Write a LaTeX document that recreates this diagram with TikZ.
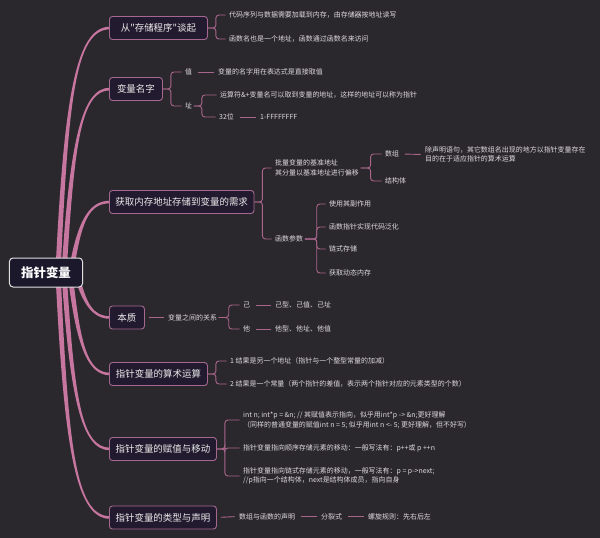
\documentclass[tikz,border=0pt]{standalone}
\usepackage{fontspec}
\newfontfamily\cjk{Noto Sans CJK SC}
\usetikzlibrary{calc}
\pgfdeclarelayer{bglayer}
\pgfdeclarelayer{trunklayer}
\pgfsetlayers{bglayer,trunklayer,main}
\definecolor{bgc}{RGB}{43,40,45}
\definecolor{boxfill}{RGB}{34,27,47}
\definecolor{boxline}{RGB}{165,105,145}
\definecolor{trunkc}{RGB}{199,118,160}
\definecolor{thinc}{RGB}{168,102,140}
\definecolor{leaftext}{RGB}{222,218,224}
\definecolor{rootfill}{RGB}{28,24,44}
\tikzset{
  mainbox/.style={draw=boxline, fill=boxfill, rounded corners=3bp, line width=0.9bp,
    text=white!92!black, font=\cjk\fontsize{9.5}{11}\selectfont,
    minimum height=23bp, inner xsep=6bp, anchor=west},
  rootbox/.style={draw=white!88!black, fill=rootfill, rounded corners=3.5bp, line width=1bp,
    text=white, font=\cjk\bfseries\fontsize{12.5}{14}\selectfont,
    minimum width=73bp, minimum height=29bp},
  leaf/.style={text=leaftext, font=\cjk\fontsize{7}{9.5}\selectfont, inner sep=1.5bp,
    anchor=west, align=left},
  conn/.style={draw=thinc, line width=0.9bp, rounded corners=3bp, shorten >=2bp},
  link/.style={draw=thinc, line width=0.9bp, shorten <=4bp, shorten >=3bp}
}
% tapered trunk from the root to a branch box
\newcommand\trunkto[3]{%
  \fill[trunkc] let \p1=(root.center), \p2=(#2.west), \p3=($(root.center)!0.7!(#2.west)$) in
   ({\x1+#1-2.6bp},\y1) .. controls ({\x1+#1+5.8bp},\y3) and ({\x1+#1+17bp},{\y2-#3*1.3bp})
   .. ({\x2+1bp},{\y2-#3*1.3bp}) -- ({\x2+1bp},{\y2+#3*1.3bp})
   .. controls ({\x1+#1+17bp},{\y2+#3*1.3bp}) and ({\x1+#1+10.2bp},\y3)
   .. ({\x1+#1+2.6bp},\y1) -- cycle;}
\begin{document}
\begin{tikzpicture}[x=1bp,y=-1bp]
\begin{pgfonlayer}{bglayer}
\fill[bgc] (0,0) rectangle (600,538);
\end{pgfonlayer}
\useasboundingbox (0,0) rectangle (600,538);

% ---- root and main branches ----
\node[rootbox] (root) at (46,272.5) {指针变量};

\node[mainbox, minimum width=98bp]  (b1) at (109,28)    {从"存储程序"谈起};
\node[mainbox, minimum width=53bp]  (b2) at (109,89)    {变量名字};
\node[mainbox, minimum width=143bp] (b3) at (109,202)   {获取内存地址存储到变量的需求};
\node[mainbox, minimum width=35bp]  (b4) at (109,317.5) {本质};
\node[mainbox, minimum width=98bp]  (b5) at (109,374)   {指针变量的算术运算};
\node[mainbox, minimum width=107bp] (b6) at (109,449)   {指针变量的赋值与移动};
\node[mainbox, minimum width=107bp] (b7) at (109,517.5) {指针变量的类型与声明};

% trunk curves, under the boxes
\begin{pgfonlayer}{trunklayer}
\trunkto{12bp}{b1}{-1}
\trunkto{18bp}{b2}{-1}
\trunkto{25bp}{b3}{-1}
\trunkto{30bp}{b4}{1}
\trunkto{24bp}{b5}{1}
\trunkto{18bp}{b6}{1}
\trunkto{12bp}{b7}{1}
\end{pgfonlayer}

% ---- branch 1 ----
\node[leaf] (c11) at (227.5,15) {代码序列与数据需要加载到内存，由存储器按地址读写};
\node[leaf] (c12) at (227.5,39) {函数名也是一个地址，函数通过函数名来访问};
\foreach \c in {c11,c12} \draw[conn] (b1.east) -- ++(8,0) |- (\c.west);

% ---- branch 2 ----
\node[leaf] (v)  at (183.5,72)  {值};
\node[leaf] (vt) at (216.5,72)  {变量的名字用在表达式是直接取值};
\node[leaf] (z)  at (183.5,106) {址};
\node[leaf] (z1) at (218.5,95)  {运算符\&+变量名可以取到变量的地址，这样的地址可以称为指针};
\node[leaf] (z2) at (217.5,117) {32位};
\node[leaf] (z3) at (258.5,117) {1-FFFFFFFF};
\foreach \c in {v,z} \draw[conn] (b2.east) -- ++(8,0) |- (\c.west);
\draw[link] (v.east) -- (vt.west);
\foreach \c in {z1,z2} \draw[conn] (z.east) -- ++(8,0) |- (\c.west);
\draw[link] (z2.east) -- (z3.west);

% ---- branch 3 ----
\node[leaf] (p1) at (273.5,168) {批量变量的基准地址\\其分量以基准地址进行偏移};
\node[leaf] (p2) at (273.5,239) {函数参数};
\node[leaf] (a1) at (383.5,154) {数组};
\node[leaf] (a2) at (383.5,181) {结构体};
\node[leaf] (a3) at (423.5,154.5) {除声明语句，其它数组名出现的地方以指针变量存在\\目的在于适应指针的算术运算};
\node[leaf] (f1) at (327.5,204) {使用其副作用};
\node[leaf] (f2) at (327.5,227) {函数指针实现代码泛化};
\node[leaf] (f3) at (327.5,249) {链式存储};
\node[leaf] (f4) at (327.5,273) {获取动态内存};
\foreach \c in {p1,p2} \draw[conn] (b3.east) -- ++(8,0) |- (\c.west);
\foreach \c in {a1,a2} \draw[conn] (p1.east) -- ++(10,0) |- (\c.west);
\draw[link] (a1.east) -- (a3.west);
\foreach \c in {f1,f2,f3,f4} \draw[conn] (p2.east) -- ++(12,0) |- (\c.west);

% ---- branch 4 ----
\node[leaf] (r)  at (166.5,317.5) {变量之间的关系};
\node[leaf] (s1) at (241.5,305) {己};
\node[leaf] (s2) at (241.5,329) {他};
\node[leaf] (s3) at (273.5,305) {己型、己值、己址};
\node[leaf] (s4) at (273.5,329) {他型、他址、他值};
\draw[link] (b4.east) -- (r.west);
\foreach \c in {s1,s2} \draw[conn] (r.east) -- ++(10,0) |- (\c.west);
\draw[link] (s1.east) -- (s3.west);
\draw[link] (s2.east) -- (s4.west);

% ---- branch 5 ----
\node[leaf] (m1) at (228.5,361) {1 结果是另一个地址（指针与一个整型常量的加减）};
\node[leaf] (m2) at (228.5,384) {2 结果是一个常量（两个指针的差值，表示两个指针对应的元素类型的个数）};
\foreach \c in {m1,m2} \draw[conn] (b5.east) -- ++(8,0) |- (\c.west);

% ---- branch 6 ----
\node[leaf] (n1) at (241.5,420) {int n; int*p = \&n; // 其赋值表示指向，似乎用int*p -> \&n;更好理解\\（同样的普通变量的赋值int n = 5; 似乎用int n <- 5; 更好理解，但不好写）};
\node[leaf] (n2) at (241.5,448) {指针变量指向顺序存储元素的移动：一般写法有：p++或 p ++n};
\node[leaf] (n3) at (241.5,476) {指针变量指向链式存储元素的移动，一般写法有：p = p->next;\\//p指向一个结构体，next是结构体成员，指向自身};
\foreach \c in {n1,n2,n3} \draw[conn] (b6.east) -- ++(8,0) |- (\c.west);

% ---- branch 7 ----
\node[leaf] (d1) at (237.5,516.5) {数组与函数的声明};
\node[leaf] (d2) at (319.5,516.5) {分裂式};
\node[leaf] (d3) at (366.5,516.5) {螺旋规则：先右后左};
\draw[link] (b7.east) -- (d1.west);
\draw[link] (d1.east) -- (d2.west);
\draw[link] (d2.east) -- (d3.west);
\end{tikzpicture}
\end{document}
